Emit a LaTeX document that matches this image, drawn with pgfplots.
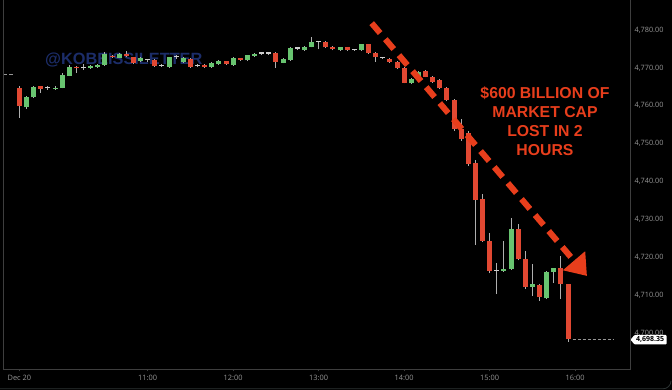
\documentclass[border=0pt]{standalone}
\usepackage{pgfplots}
\pgfplotsset{compat=1.18}
\usepackage{pgfplotstable}
\usepackage{fontspec}
\setmainfont{Open Sans}
\newfontfamily\arial{Liberation Sans}
\usetikzlibrary{arrows.meta}

\definecolor{candred}{RGB}{225,72,50}
\definecolor{candgreen}{RGB}{104,196,112}
\definecolor{wick}{RGB}{175,175,175}
\definecolor{doji}{RGB}{205,205,205}
\definecolor{annot}{RGB}{232,62,28}
\definecolor{wm}{RGB}{28,45,105}
\definecolor{axisgray}{RGB}{62,62,62}
\definecolor{lblgray}{RGB}{150,150,150}
\definecolor{framegray}{RGB}{45,52,52}

% i open high low close  (5-minute candles, 9:30 = 0)
\pgfplotstableread{
i o h l c
0 4764.7 4765.2 4756.8 4760.0
1 4759.6 4762.6 4759.2 4762.4
2 4762.2 4765.2 4762.0 4765.0
3 4765.1 4765.3 4763.5 4764.5
4 4764.6 4765.1 4764.2 4764.6
5 4764.5 4765.1 4764.3 4764.8
6 4764.8 4768.7 4764.6 4768.1
7 4767.9 4770.8 4767.8 4770.3
8 4770.3 4770.5 4768.7 4769.9
9 4769.9 4771.0 4769.5 4769.9
10 4770.0 4770.7 4769.8 4770.5
11 4770.3 4771.0 4770.1 4770.8
12 4770.8 4774.3 4770.6 4773.7
13 4773.2 4773.4 4772.6 4772.8
14 4772.7 4774.0 4772.5 4773.8
15 4773.8 4774.5 4773.0 4773.2
16 4772.8 4773.0 4771.0 4771.2
17 4771.7 4772.9 4771.5 4772.7
18 4772.0 4772.4 4771.6 4772.0
19 4772.1 4772.3 4770.3 4770.5
20 4770.5 4770.9 4770.2 4770.5
21 4770.3 4773.0 4770.1 4772.8
22 4772.8 4773.3 4772.4 4772.8
23 4771.6 4772.9 4771.4 4772.7
24 4772.3 4772.5 4770.1 4770.3
25 4770.5 4770.9 4770.2 4770.5
26 4770.8 4771.0 4770.1 4770.3
27 4770.3 4771.6 4770.1 4771.4
28 4771.0 4772.0 4770.8 4771.8
29 4771.7 4771.9 4770.8 4771.0
30 4770.8 4772.9 4770.6 4772.7
31 4772.5 4772.7 4771.9 4772.1
32 4772.0 4773.5 4771.8 4773.3
33 4773.2 4774.0 4773.0 4773.8
34 4773.8 4774.2 4773.4 4773.8
35 4773.8 4774.2 4773.4 4773.8
36 4773.9 4774.1 4770.1 4771.6
37 4771.4 4772.6 4771.2 4772.4
38 4772.1 4775.6 4771.9 4775.2
39 4775.1 4775.4 4774.7 4775.1
40 4774.7 4775.8 4774.5 4775.6
41 4775.6 4778.2 4775.4 4776.9
42 4776.9 4777.1 4774.9 4776.9
43 4776.8 4777.0 4775.2 4775.4
44 4775.6 4775.8 4774.6 4774.9
45 4774.7 4775.6 4774.5 4775.4
46 4775.4 4775.6 4774.5 4774.7
47 4774.7 4774.9 4774.5 4774.7
48 4774.7 4776.4 4774.5 4776.2
49 4776.2 4776.4 4773.7 4773.9
50 4773.9 4774.3 4771.6 4772.8
51 4772.7 4773.0 4772.3 4772.7
52 4772.3 4772.5 4771.3 4771.6
53 4771.5 4771.7 4769.8 4770.1
54 4770.1 4770.3 4765.9 4766.1
55 4765.9 4767.4 4765.7 4767.2
56 4767.2 4769.2 4767.0 4769.0
57 4769.2 4769.4 4767.5 4767.7
58 4767.5 4767.8 4766.0 4766.4
59 4766.8 4767.0 4764.4 4764.6
60 4764.8 4765.0 4761.2 4761.5
61 4761.5 4761.7 4753.3 4753.8
62 4753.8 4756.5 4750.8 4751.2
63 4752.7 4753.3 4744.2 4744.6
64 4745.0 4745.6 4723.3 4735.1
65 4735.3 4736.6 4724.0 4724.3
66 4724.4 4726.4 4715.8 4716.5
67 4716.5 4718.6 4710.3 4716.5
68 4716.5 4724.4 4716.2 4716.9
69 4716.9 4730.3 4716.7 4727.5
70 4727.4 4728.7 4719.2 4719.6
71 4719.6 4721.7 4711.6 4712.3
72 4712.3 4718.2 4709.8 4712.9
73 4712.7 4712.9 4708.6 4709.5
74 4709.2 4716.5 4709.0 4716.1
75 4716.2 4717.3 4713.2 4717.1
76 4717.1 4720.4 4709.0 4712.9
77 4712.9 4713.1 4697.8 4698.35
}\allc

% rising candles
\pgfplotstableread{
i o c
1 4759.6 4762.4
2 4762.2 4765.0
5 4764.5 4764.8
6 4764.8 4768.1
7 4767.9 4770.3
10 4770.0 4770.5
11 4770.3 4770.8
12 4770.8 4773.7
14 4772.7 4773.8
17 4771.7 4772.7
21 4770.3 4772.8
23 4771.6 4772.7
27 4770.3 4771.4
28 4771.0 4771.8
30 4770.8 4772.7
32 4772.0 4773.3
33 4773.2 4773.8
37 4771.4 4772.4
38 4772.1 4775.2
40 4774.7 4775.6
41 4775.6 4776.9
45 4774.7 4775.4
48 4774.7 4776.2
55 4765.9 4767.2
56 4767.2 4769.0
68 4716.5 4716.9
69 4716.9 4727.5
72 4712.3 4712.9
74 4709.2 4716.1
75 4716.2 4717.1
}\upc

% falling candles
\pgfplotstableread{
i o c
0 4764.7 4760.0
3 4765.1 4764.5
8 4770.3 4769.9
13 4773.2 4772.8
15 4773.8 4773.2
16 4772.8 4771.2
19 4772.1 4770.5
24 4772.3 4770.3
26 4770.8 4770.3
29 4771.7 4771.0
31 4772.5 4772.1
36 4773.9 4771.6
43 4776.8 4775.4
44 4775.6 4774.9
46 4775.4 4774.7
49 4776.2 4773.9
50 4773.9 4772.8
52 4772.3 4771.6
53 4771.5 4770.1
54 4770.1 4766.1
57 4769.2 4767.7
58 4767.5 4766.4
59 4766.8 4764.6
60 4764.8 4761.5
61 4761.5 4753.8
62 4753.8 4751.2
63 4752.7 4744.6
64 4745.0 4735.1
65 4735.3 4724.3
66 4724.4 4716.5
70 4727.4 4719.6
71 4719.6 4712.3
73 4712.7 4709.5
76 4717.1 4712.9
77 4712.9 4698.35
}\downc

% doji candles
\pgfplotstableread{
i o
4 4764.6
9 4769.9
18 4772.0
20 4770.5
22 4772.8
25 4770.5
34 4773.8
35 4773.8
39 4775.1
42 4776.9
47 4774.7
51 4772.7
67 4716.5
}\dojic

\begin{document}
\begin{tikzpicture}
\useasboundingbox (0,0) rectangle (672bp,390bp);
\fill[black] (0,0) rectangle (672bp,390bp);
\node[anchor=base west, inner sep=0pt, text=wm, font=\arial\bfseries\fontsize{16.3bp}{18bp}\selectfont] at (45bp,325bp) {@KOBEISSILETTER};
\begin{axis}[
  at={(3bp,21bp)}, anchor=south west,
  scale only axis, width=627bp, height=369bp,
  xmin=-2.3, xmax=85.7, ymin=4690.55, ymax=4787.92,
  axis line style={draw=none},
  xtick={0,18,30,42,54,66,78},
  xticklabels={Dec 20,11:00,12:00,13:00,14:00,15:00,16:00},
  ytick={4700,4710,4720,4730,4740,4750,4760,4770,4780},
  yticklabels={{4,700.00},{4,710.00},{4,720.00},{4,730.00},{4,740.00},{4,750.00},{4,760.00},{4,770.00},{4,780.00}},
  xtick pos=bottom, ytick pos=right, yticklabel pos=right,
  tick align=outside, major tick length=2.5bp,
  xtick style={draw=axisgray, line width=0.6bp},
  ytick style={draw=none},
  xticklabel style={font=\fontsize{7.4bp}{8bp}\selectfont, text=lblgray, inner sep=0pt, anchor=north, yshift=-3bp},
  yticklabel style={font=\fontsize{7.3bp}{8bp}\selectfont, text=lblgray, inner sep=0pt, anchor=west, xshift=2bp},
  /pgf/number format/assume math mode=true,
]
% wicks
\addplot[draw=none, mark=none, forget plot, error bars/.cd, y dir=plus, y explicit, error mark=none,
  error bar style={draw=wick, line width=1bp}]
  table[x=i, y=l, y error expr=\thisrow{h}-\thisrow{l}] {\allc};
% bodies
\addplot[draw=none, mark=none, forget plot, error bars/.cd, y dir=plus, y explicit, error mark=none,
  error bar style={draw=candgreen, line width=5bp}]
  table[x=i, y=o, y error expr=\thisrow{c}-\thisrow{o}] {\upc};
\addplot[draw=none, mark=none, forget plot, error bars/.cd, y dir=plus, y explicit, error mark=none,
  error bar style={draw=candred, line width=5bp}]
  table[x=i, y=c, y error expr=\thisrow{o}-\thisrow{c}] {\downc};
\addplot[draw=none, mark=none, forget plot, error bars/.cd, y dir=plus, y explicit, error mark=none,
  error bar style={draw=doji, line width=5bp}]
  table[x=i, y=o, y error expr=0.3] {\dojic};
% reference lines
\addplot[lblgray, line width=1bp, dash pattern=on 3bp off 2bp, forget plot] coordinates {(77.65,4698.35) (83.35,4698.35)};
\addplot[lblgray, line width=1bp, dash pattern=on 4bp off 2bp, forget plot] coordinates {(-2.3,4768.3) (-0.62,4768.3)};
% annotation arrow
\addplot[annot, line width=6bp, dash pattern=on 13bp off 8bp, -{Triangle[length=20bp,width=28bp]}, forget plot]
  coordinates {(49.45,4781.8) (79.66,4715.1)};
\end{axis}
% axis frame (left, bottom, right)
\draw[axisgray, line width=0.8bp] (3bp,390bp) -- (3bp,21bp) -- (630bp,21bp) -- (630bp,390bp);
% outer frame
\draw[framegray, line width=0.8bp] (0,1.2bp) -- (663bp,1.2bp) arc[start angle=-90, end angle=0, radius=8bp];
% last price label
\fill[white, rounded corners=0.8bp] (630.5bp,50.3bp) -- (634.5bp,55bp) -- (666.5bp,55bp) -- (666.5bp,45.6bp) -- (634.5bp,45.6bp) -- cycle;
\node[inner sep=0pt, text=black, font=\bfseries\fontsize{7bp}{8bp}\selectfont] at (650bp,50.3bp) {4,698.35};
% annotation text
\begin{scope}[every node/.style={anchor=base, inner sep=0pt, text=annot, font=\arial\bfseries\fontsize{15.8bp}{19bp}\selectfont}]
\node at (545bp,291.65bp) {\$600 BILLION OF};
\node at (545bp,272.65bp) {MARKET CAP};
\node at (545bp,253.35bp) {LOST IN 2};
\node at (545bp,234.35bp) {HOURS};
\end{scope}
\end{tikzpicture}
\end{document}
